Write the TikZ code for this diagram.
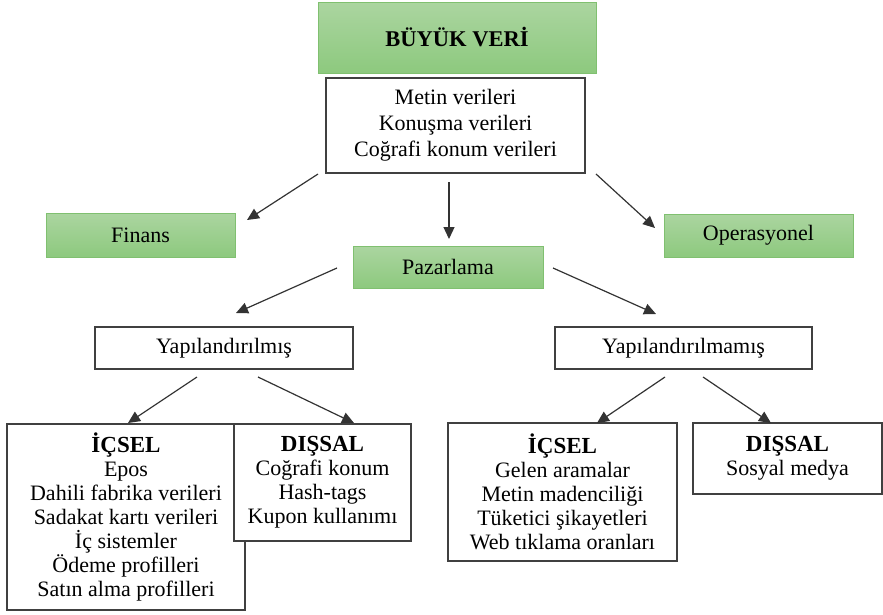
\documentclass[tikz,border=0pt]{standalone}
\usepackage{fontspec}
\setmainfont{Liberation Serif}
\usetikzlibrary{arrows.meta}
\definecolor{gtop}{RGB}{171,213,160}
\definecolor{gbot}{RGB}{141,201,126}
\definecolor{gline}{RGB}{128,192,112}
\definecolor{bline}{RGB}{64,64,64}
\tikzset{
  base/.style={inner sep=0pt, align=center, font=\fontsize{22}{24}\selectfont},
  greenbox/.style={base, draw=gline, line width=1pt, top color=gtop, bottom color=gbot},
  whitebox/.style={base, draw=bline, line width=1.2pt, fill=white},
  arr/.style={draw=black!80, line width=1.2pt, -{Triangle[length=12pt,width=11pt]}},
}
\newcommand{\hd}[1]{{\fontsize{23}{27}\selectfont\bfseries #1}}
\begin{document}
\begin{tikzpicture}[x=1pt,y=-1pt]
\useasboundingbox (0,0) rectangle (883,614);
\node[greenbox, minimum width=278pt, minimum height=71pt] (title) at (457,37.5) {\fontsize{22.5}{24}\selectfont\bfseries BÜYÜK VERİ};
\node[whitebox, minimum width=259pt, minimum height=95pt, font=\fontsize{22}{26}\selectfont] (metin) at (455.5,125.5) {Metin verileri\\Konuşma verileri\\Coğrafi konum verileri};
\node[greenbox, minimum width=189pt, minimum height=44pt] (finans) at (140.5,235) {Finans};
\node[greenbox, minimum width=189pt, minimum height=43pt] (oper) at (758.5,235.5) {Operasyonel};
\node[greenbox, minimum width=190pt, minimum height=42pt] (paz) at (448,267) {Pazarlama};
\node[whitebox, minimum width=258pt, minimum height=42pt] (yap) at (224,348) {Yapılandırılmış};
\node[whitebox, minimum width=257pt, minimum height=42pt] (yapm) at (683.5,348) {Yapılandırılmamış};
\node[whitebox, minimum width=238pt, minimum height=186pt] (icL) at (126,517) {\hd{İÇSEL}\\Epos\\Dahili fabrika verileri\\Sadakat kartı verileri\\İç sistemler\\Ödeme profilleri\\Satın alma profilleri};
\node[whitebox, minimum width=177pt, minimum height=117pt] (disL) at (322.5,482.5) {\hd{DIŞSAL}\\Coğrafi konum\\Hash-tags\\Kupon kullanımı};
\node[whitebox, minimum width=229pt, minimum height=138pt] (icR) at (562.5,492) {\hd{İÇSEL}\\Gelen aramalar\\Metin madenciliği\\Tüketici şikayetleri\\Web tıklama oranları};
\node[whitebox, minimum width=189pt, minimum height=71pt] (disR) at (787.5,458.5) {\hd{DIŞSAL}\\Sosyal medya};
% arrow end points
\coordinate (m2f) at (318,174); \coordinate (f2) at (247,220);
\coordinate (m2p) at (449,182); \coordinate (p2) at (449,239);
\coordinate (m2o) at (596,174); \coordinate (o2) at (655,228);
\coordinate (p2y) at (337,268); \coordinate (y2) at (236,313);
\coordinate (p2ym) at (553,268); \coordinate (ym2) at (656,314);
\coordinate (y2il) at (197,377); \coordinate (il2) at (128,423);
\coordinate (y2dl) at (258,377); \coordinate (dl2) at (354,423);
\coordinate (ym2ir) at (665,377); \coordinate (ir2) at (597,423);
\coordinate (ym2dr) at (703,377); \coordinate (dr2) at (771,423);
\draw[arr] (m2f) -- (f2);
\draw[arr] (m2p) -- (p2);
\draw[arr] (m2o) -- (o2);
\draw[arr] (p2y) -- (y2);
\draw[arr] (p2ym) -- (ym2);
\draw[arr] (y2il) -- (il2);
\draw[arr] (y2dl) -- (dl2);
\draw[arr] (ym2ir) -- (ir2);
\draw[arr] (ym2dr) -- (dr2);
\end{tikzpicture}
\end{document}
